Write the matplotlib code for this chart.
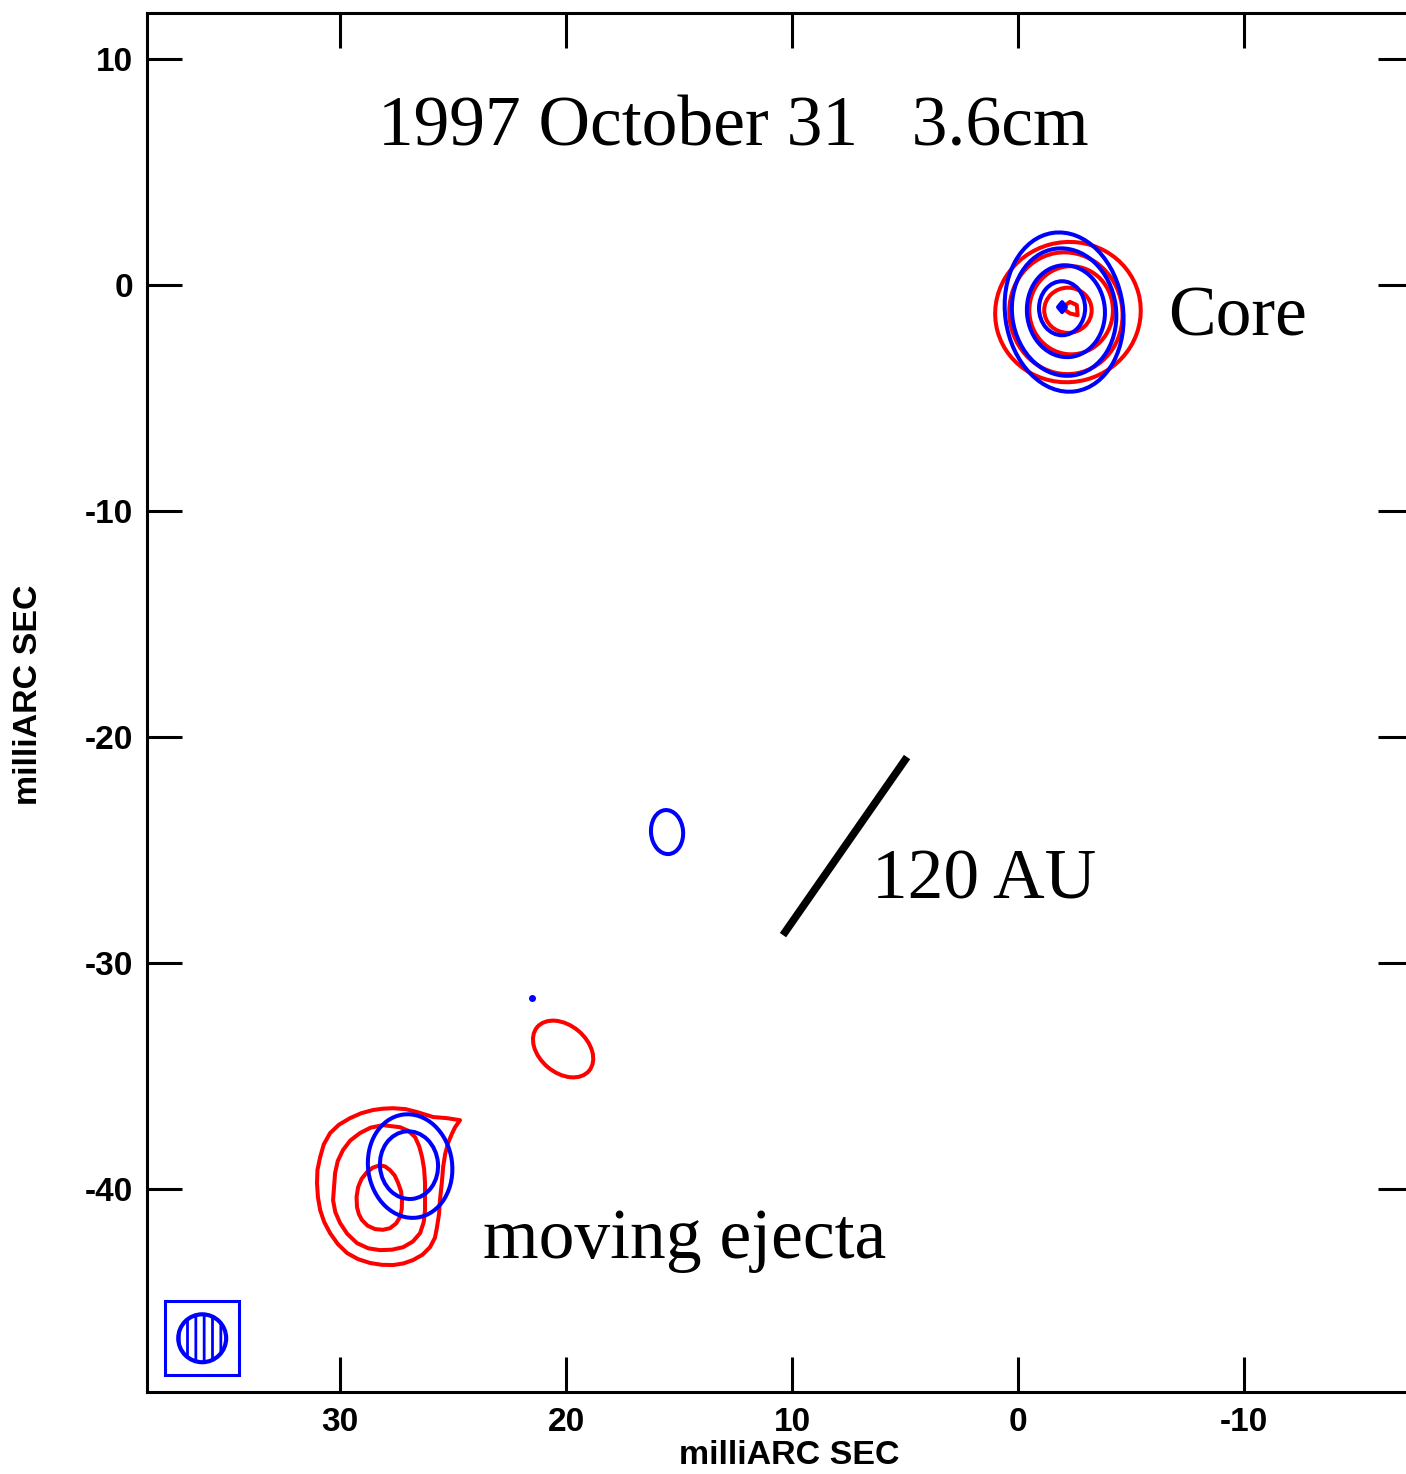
#!/usr/bin/env python3

#radio map of the core and the moving ejecta, 3.6cm contours for two epochs (red and blue)

import matplotlib
matplotlib.use("Agg")
import matplotlib.pyplot as plt
from matplotlib.patches import Ellipse, Polygon, Circle, Rectangle

#tick positions in milliarcsec
x_ticks = [30, 20, 10, 0, -10]
y_ticks = [10, 0, -10, -20, -30, -40]

#elliptical contours: (x centre, y centre, width, height, angle)
red_ellipses = [
    (-2.21, -1.19, 6.46, 6.19, -15),
    (-2.12, -1.24, 5.0, 5.4, -10),
    (-2.35, -1.11, 3.7, 3.9, 0),
    (-2.21, -1.11, 2.1, 2.0, 0),
    (20.13, -33.8, 3.0, 2.1, 40),
]
blue_ellipses = [
    (-2.04, -1.19, 5.22, 7.08, -8),
    (-2.04, -1.19, 4.60, 5.66, -8),
    (-2.12, -1.15, 3.45, 4.07, -5),
    (-1.95, -1.02, 2.04, 2.39, 0),
    (26.90, -38.98, 3.72, 4.60, -8),
    (26.95, -38.94, 2.57, 3.00, -5),
    (15.53, -24.20, 1.42, 1.95, -5),
]

#irregular contours traced as vertex lists (x, y)
red_ejecta_outer = [
    (24.69, -36.95), (25.27, -36.86), (25.88, -36.81), (26.59, -36.59),
    (27.10, -36.46), (27.65, -36.42), (28.10, -36.44), (28.54, -36.50),
    (29.06, -36.64), (29.56, -36.86), (30.05, -37.15), (30.44, -37.52),
    (30.72, -38.02), (30.88, -38.58), (31.0, -39.15), (31.02, -39.73),
    (30.98, -40.35), (30.88, -40.93), (30.70, -41.46), (30.44, -41.95),
    (30.10, -42.43), (29.69, -42.83), (29.20, -43.10), (28.67, -43.27),
    (28.15, -43.35), (27.65, -43.36), (27.20, -43.29), (26.77, -43.14),
    (26.35, -42.90), (26.02, -42.57), (25.80, -42.15), (25.71, -41.68),
    (25.62, -41.10), (25.58, -40.49), (25.50, -39.75), (25.44, -39.03),
    (25.35, -38.45), (25.22, -37.96), (25.05, -37.55), (24.91, -37.26),
]
red_ejecta_mid = [
    (27.35, -37.26), (28.10, -37.17), (28.65, -37.28), (29.12, -37.52),
    (29.55, -37.85), (29.87, -38.27), (30.10, -38.75), (30.22, -39.29),
    (30.31, -40.49), (30.21, -41.02), (30.00, -41.50), (29.68, -41.98),
    (29.25, -42.39), (28.75, -42.62), (28.23, -42.70), (27.70, -42.68),
    (27.21, -42.57), (26.78, -42.32), (26.46, -41.95), (26.30, -41.47),
    (26.24, -40.93), (26.24, -39.73), (26.28, -39.12), (26.37, -38.58),
    (26.50, -38.10), (26.68, -37.70), (26.98, -37.42),
]
red_ejecta_inner = [
    (28.23, -38.94), (28.55, -39.05), (28.81, -39.25), (29.05, -39.55),
    (29.20, -39.91), (29.27, -40.35), (29.25, -40.80), (29.17, -41.10),
    (29.03, -41.37), (28.78, -41.62), (28.45, -41.77), (28.10, -41.80),
    (27.79, -41.73), (27.52, -41.52), (27.35, -41.24), (27.27, -40.88),
    (27.26, -40.49), (27.30, -40.10), (27.43, -39.73), (27.58, -39.40),
    (27.79, -39.16), (28.00, -39.00),
]
red_core_peak = [(-1.93, -0.99), (-2.30, -0.74), (-2.60, -0.88), (-2.64, -1.33), (-2.30, -1.25)]
blue_core_peak = [(-1.95, -0.75), (-2.12, -0.97), (-1.95, -1.19), (-1.77, -0.97)]
blue_spot = (21.5, -31.55)

#120 AU scale bar end points
bar_x = [10.4, 4.91]
bar_y = [-28.76, -20.88]

#restoring beam
beam_box = (34.47, -48.23, 3.27, 3.27)
beam_centre = (36.1, -46.6)
beam_radius = 1.06


def main():

    plt.rcParams["hatch.linewidth"] = 2.0
    plt.rcParams["hatch.color"] = "blue"

    fig = plt.figure(figsize = (14.06, 14.74), dpi = 100)
    ax = fig.add_axes([0.1046, 0.0556, 0.9004, 0.9355])

    ax.set_xlim(38.54, -17.48)
    ax.set_ylim(-48.98, 12.04)

    lw = 2.9

    #contours
    for (x, y, w, h, a) in red_ellipses:
        ax.add_patch(Ellipse((x, y), w, h, angle = a, fill = False, ec = "red", lw = lw))
    for pts in [red_ejecta_outer, red_ejecta_mid, red_ejecta_inner, red_core_peak]:
        ax.add_patch(Polygon(pts, closed = True, fill = False, ec = "red", lw = lw, joinstyle = "round"))

    for (x, y, w, h, a) in blue_ellipses:
        ax.add_patch(Ellipse((x, y), w, h, angle = a, fill = False, ec = "blue", lw = lw))
    ax.add_patch(Polygon(blue_core_peak, closed = True, fill = True, fc = "blue", ec = "blue", lw = lw, joinstyle = "round"))
    ax.plot(blue_spot[0], blue_spot[1], "o", color = "blue", ms = 4)

    #scale bar
    ax.plot(bar_x, bar_y, color = "black", lw = 5.5, solid_capstyle = "butt")

    #beam
    ax.add_patch(Rectangle(beam_box[:2], beam_box[2], beam_box[3], fill = False, ec = "blue", lw = 2.2))
    ax.add_patch(Circle(beam_centre, beam_radius, fill = False, ec = "blue", lw = 3, hatch = "||"))

    #annotations
    serif = dict(family = "Liberation Serif", fontsize = 51.5, color = "black")
    ax.text(28.32, 6.19, "1997 October 31   3.6cm", ha = "left", va = "baseline", **serif)
    ax.text(-6.64, -2.21, "Core", ha = "left", va = "baseline", **serif)
    ax.text(6.46, -27.12, "120 AU", ha = "left", va = "baseline", **serif)
    ax.text(23.67, -43.05, "moving ejecta", ha = "left", va = "baseline", **serif)

    #axes styling
    ax.set_xticks(x_ticks)
    ax.set_yticks(y_ticks)
    ax.set_xticklabels([str(t) for t in x_ticks])
    ax.set_yticklabels([str(t) for t in y_ticks])
    ax.tick_params(direction = "in", length = 25, width = 2.2, top = True, right = True,
                   labelsize = 24, pad = 10, colors = "black")
    for lab in ax.get_xticklabels() + ax.get_yticklabels():
        lab.set_family("Liberation Sans")
        lab.set_fontweight("bold")
    ax.tick_params(axis = "x", pad = 11)

    for side in ["left", "bottom", "top"]:
        ax.spines[side].set_linewidth(2.2)
    ax.spines["right"].set_visible(False)

    ax.set_xlabel("milliARC SEC", family = "Liberation Sans", fontweight = "bold", fontsize = 24.5, va = "center")
    ax.set_ylabel("milliARC SEC", family = "Liberation Sans", fontweight = "bold", fontsize = 24.5, va = "center")
    ax.xaxis.set_label_coords(0.507, -0.0457)
    ax.yaxis.set_label_coords(-0.094, 0.5055)

    fig.savefig("out.png", dpi = 100)


if __name__ == "__main__":
    main()
